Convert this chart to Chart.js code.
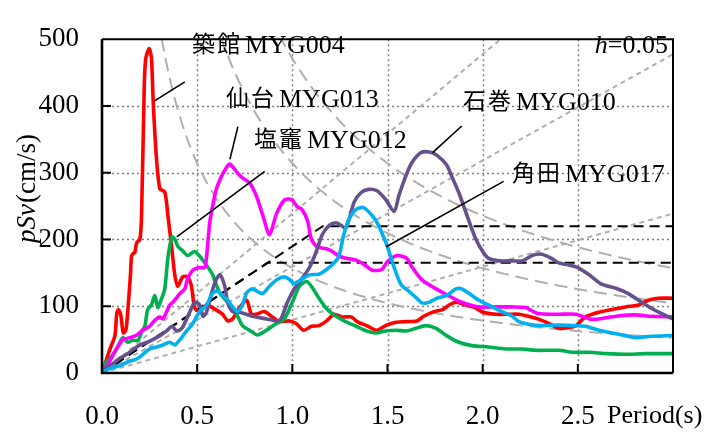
<!DOCTYPE html>
<html>
<head>
<meta charset="utf-8">
<script src="https://cdn.jsdelivr.net/npm/chart.js@4.4.0/dist/chart.umd.min.js"></script>
<style>
  html, body { margin: 0; padding: 0; background: #fff; }
</style>
</head>
<body>
<canvas id="chart" width="719" height="434"></canvas>
<script>
// ========================== Datos (periodo T [s], pSv [cm/s])
const redT = [0, 0.042, 0.068, 0.077, 0.086, 0.098, 0.112, 0.126, 0.138, 0.15, 0.155, 0.164, 0.173, 0.182, 0.199, 0.208, 0.222, 0.23, 0.248, 0.26, 0.269, 0.286, 0.304, 0.33, 0.347, 0.367, 0.382, 0.398, 0.424, 0.45, 0.47, 0.487, 0.513, 0.55, 0.58, 0.634, 0.66, 0.686, 0.723, 0.76, 0.785, 0.81, 0.853, 0.895, 0.93, 0.985, 1.02, 1.06, 1.10, 1.14, 1.18, 1.22, 1.26, 1.31, 1.34, 1.39, 1.445, 1.49, 1.545, 1.6, 1.655, 1.69, 1.745, 1.79, 1.83, 1.865, 1.91, 1.96, 2.0, 2.07, 2.14, 2.19, 2.24, 2.29, 2.35, 2.40, 2.45, 2.49, 2.54, 2.61, 2.68, 2.75, 2.82, 2.87, 2.92, 3.0];
const redV = [0, 36, 56, 88, 95, 88, 60, 65, 102, 149, 175, 179, 181, 195, 200, 238, 429, 471, 486, 471, 406, 322, 276, 271, 234, 186, 148, 130, 144, 144, 130, 98, 92, 102, 98, 88, 78, 81, 98, 109, 88, 88, 92, 84, 77, 78, 74, 64, 70, 71, 78, 88, 84, 84, 77, 71, 64, 71, 76, 77, 78, 85, 92, 95, 103, 106, 102, 98, 91, 88, 88, 88, 85, 81, 74, 67, 68, 71, 84, 91, 95, 99, 102, 109, 112, 112];

const magT = [0, 0.03, 0.068, 0.11, 0.147, 0.183, 0.215, 0.25, 0.278, 0.304, 0.32, 0.34, 0.356, 0.372, 0.41, 0.435, 0.45, 0.477, 0.513, 0.54, 0.55, 0.566, 0.58, 0.6, 0.627, 0.644, 0.67, 0.714, 0.74, 0.775, 0.81, 0.845, 0.88, 0.916, 0.958, 0.995, 1.026, 1.05, 1.08, 1.10, 1.13, 1.18, 1.21, 1.245, 1.28, 1.335, 1.38, 1.42, 1.47, 1.50, 1.55, 1.60, 1.63, 1.68, 1.755, 1.82, 1.89, 1.98, 2.07, 2.155, 2.225, 2.29, 2.40, 2.49, 2.56, 2.61, 2.70, 2.80, 2.885, 3.0];
const magV = [0, 12, 32, 50, 53, 57, 64, 70, 79, 84, 81, 92, 102, 106, 119, 126, 141, 154, 158, 158, 176, 225, 248, 275, 294, 303, 313, 299, 292, 285, 266, 236, 207, 238, 259, 260, 249, 245, 228, 200, 189, 186, 182, 175, 172, 169, 162, 154, 155, 167, 176, 172, 158, 140, 126, 116, 106, 99, 99, 99, 98, 89, 88, 88, 81, 81, 85, 87, 85, 84];

const grnT = [0, 0.016, 0.042, 0.068, 0.094, 0.11, 0.136, 0.16, 0.19, 0.21, 0.225, 0.24, 0.26, 0.278, 0.293, 0.315, 0.33, 0.346, 0.367, 0.383, 0.398, 0.424, 0.45, 0.487, 0.513, 0.55, 0.58, 0.618, 0.66, 0.707, 0.738, 0.775, 0.817, 0.864, 0.916, 0.958, 1.0, 1.037, 1.074, 1.10, 1.14, 1.184, 1.23, 1.28, 1.335, 1.39, 1.44, 1.49, 1.545, 1.60, 1.65, 1.70, 1.755, 1.81, 1.875, 1.945, 2.03, 2.12, 2.205, 2.28, 2.40, 2.47, 2.56, 2.65, 2.75, 2.855, 3.0];
const grnV = [0, 14, 22, 32, 46, 53, 46, 49, 49, 63, 70, 95, 102, 116, 98, 113, 126, 172, 204, 200, 190, 183, 176, 182, 175, 161, 148, 120, 106, 88, 71, 64, 57, 64, 74, 81, 106, 130, 137, 130, 112, 95, 85, 77, 70, 63, 60, 63, 64, 63, 67, 71, 67, 56, 46, 41, 39, 36, 36, 34, 34, 31, 31, 29, 28, 29, 29];

const purT = [0, 0.026, 0.058, 0.094, 0.13, 0.163, 0.2, 0.236, 0.267, 0.304, 0.34, 0.367, 0.393, 0.42, 0.45, 0.487, 0.513, 0.53, 0.55, 0.576, 0.6, 0.62, 0.645, 0.66, 0.686, 0.723, 0.79, 0.864, 0.916, 0.94, 0.974, 1.01, 1.047, 1.09, 1.126, 1.157, 1.194, 1.23, 1.257, 1.28, 1.30, 1.325, 1.36, 1.40, 1.445, 1.49, 1.535, 1.56, 1.60, 1.63, 1.675, 1.72, 1.76, 1.81, 1.84, 1.875, 1.91, 1.94, 1.965, 2.0, 2.03, 2.085, 2.155, 2.21, 2.26, 2.31, 2.36, 2.40, 2.45, 2.50, 2.56, 2.625, 2.70, 2.765, 2.835, 2.905, 3.0];
const purV = [0, 8, 14, 22, 28, 35, 42, 46, 50, 56, 63, 70, 63, 67, 84, 106, 102, 85, 92, 120, 140, 147, 130, 106, 92, 91, 85, 81, 78, 81, 106, 126, 140, 158, 182, 207, 221, 225, 221, 217, 232, 256, 270, 275, 273, 260, 242, 266, 298, 316, 330, 331, 326, 312, 293, 270, 242, 218, 200, 182, 172, 168, 168, 168, 176, 178, 172, 165, 162, 158, 147, 133, 127, 119, 106, 94, 81];

const cyaT = [0, 0.042, 0.094, 0.147, 0.183, 0.215, 0.25, 0.288, 0.32, 0.356, 0.383, 0.41, 0.445, 0.477, 0.513, 0.55, 0.58, 0.607, 0.634, 0.66, 0.686, 0.712, 0.738, 0.76, 0.79, 0.843, 0.88, 0.92, 0.958, 0.985, 1.01, 1.047, 1.09, 1.14, 1.18, 1.22, 1.245, 1.27, 1.30, 1.335, 1.37, 1.40, 1.44, 1.47, 1.50, 1.535, 1.57, 1.61, 1.65, 1.68, 1.72, 1.76, 1.81, 1.86, 1.89, 1.93, 1.98, 2.05, 2.10, 2.155, 2.19, 2.24, 2.31, 2.40, 2.47, 2.54, 2.61, 2.68, 2.75, 2.80, 2.885, 3.0];
const cyaV = [0, 7, 11, 18, 21, 28, 36, 39, 42, 46, 42, 50, 63, 74, 92, 102, 119, 123, 116, 109, 99, 92, 102, 120, 126, 119, 130, 140, 144, 140, 134, 140, 147, 148, 155, 165, 175, 207, 232, 245, 248, 242, 228, 210, 189, 158, 133, 123, 113, 105, 106, 112, 116, 126, 126, 119, 109, 99, 92, 85, 77, 73, 71, 72, 71, 70, 64, 60, 56, 53, 55, 56];

// líneas de referencia: desplazamiento constante Sd [cm] y aceleración constante Sa [cm/s2]
const sdLevels = [25, 50, 75];
const saLevels = [500, 1000, 1500];
// espectros de diseño (esquina y meseta)
const designT = [1.16, 0.87];
const designV = [220, 165];

// etiquetas de estaciones y sus líneas guía (extremos en T, pSv)
const stations = ["築館", "仙台", "塩竈", "石巻", "角田"];
const codes = ["MYG004", "MYG013", "MYG012", "MYG010", "MYG017"];
const leadT = [[0.278, 0.435], [0.672, 0.714], [0.393, 0.855], [1.737, 1.89], [1.493, 2.11]];
const leadV = [[408, 436], [320, 369], [204, 302], [330, 370], [189, 287]];

const xTicks = [0, 0.5, 1.0, 1.5, 2.0, 2.5, 3.0];
const yTicks = [0, 100, 200, 300, 400, 500];

// ========================== Helpers
const pts = (T, V) => T.map((t, i) => ({ x: t, y: V[i] }));
const TWO_PI = 2 * Math.PI;

function sdCurve(sd) {
    const out = [];
    for (let t = TWO_PI * sd / 560; t <= 3.0001; t += 0.01) {
        out.push({ x: t, y: TWO_PI * sd / t });
    }
    return out;
}

const SERIF = "'Liberation Serif', 'Times New Roman', serif";
const CJK = "'Noto Sans CJK JP', 'Noto Sans CJK SC', sans-serif";

Chart.defaults.font.family = SERIF;
Chart.defaults.font.size = 27;
Chart.defaults.color = "#000";

const series = (data, color) => ({
    data, borderColor: color, borderWidth: 3.6, pointRadius: 0,
    showLine: true, tension: 0.25, fill: false
});

const datasets = [];

// líneas guía de etiquetas (arriba de todo)
leadT.forEach((t, i) => {
    datasets.push({
        data: pts(t, leadV[i]), borderColor: "#000", borderWidth: 1.6,
        pointRadius: 0, showLine: true
    });
});

datasets.push(series(pts(cyaT, cyaV), "#00B0F0"));
datasets.push(series(pts(purT, purV), "#65518C"));
datasets.push(series(pts(magT, magV), "#FF00FF"));
datasets.push(series(pts(grnT, grnV), "#00B050"));
datasets.push(series(pts(redT, redV), "#FF0000"));

designT.forEach((t, i) => {
    datasets.push({
        data: [{ x: 0, y: 0 }, { x: t, y: designV[i] }, { x: 3, y: designV[i] }],
        borderColor: "#000", borderWidth: 2, borderDash: [10, 6],
        pointRadius: 0, showLine: true
    });
});

saLevels.forEach(sa => {
    datasets.push({
        data: [{ x: 0, y: 0 }, { x: 3, y: sa * 3 / TWO_PI }],
        borderColor: "#AFAFAF", borderWidth: 2, borderDash: [5, 4],
        pointRadius: 0, showLine: true
    });
});

sdLevels.forEach(sd => {
    datasets.push({
        data: sdCurve(sd), borderColor: "#AFAFAF", borderWidth: 2,
        borderDash: [13, 7], pointRadius: 0, showLine: true
    });
});

// ========================== Plugin: rejilla punteada, ejes, ticks y textos
const decorPlugin = {
    id: "decor",
    beforeDatasetsDraw(chart) {
        const { ctx, chartArea: a, scales: { x, y } } = chart;
        ctx.save();
        ctx.strokeStyle = "#7F7F7F";
        ctx.lineWidth = 1.5;
        ctx.setLineDash([2, 3]);
        xTicks.slice(1, -1).forEach(v => {
            const px = Math.round(x.getPixelForValue(v)) + 0.5;
            ctx.beginPath(); ctx.moveTo(px, a.top); ctx.lineTo(px, a.bottom); ctx.stroke();
        });
        yTicks.slice(1, -1).forEach(v => {
            const py = Math.round(y.getPixelForValue(v)) + 0.5;
            ctx.beginPath(); ctx.moveTo(a.left, py); ctx.lineTo(a.right, py); ctx.stroke();
        });
        ctx.restore();
    },
    afterDatasetsDraw(chart) {
        const { ctx, chartArea: a, scales: { x, y } } = chart;
        ctx.save();
        ctx.setLineDash([]);
        ctx.strokeStyle = "#000";

        // marco
        ctx.lineWidth = 2;
        ctx.beginPath();
        ctx.moveTo(a.left, a.top); ctx.lineTo(a.right, a.top); ctx.lineTo(a.right, a.bottom);
        ctx.stroke();
        ctx.lineWidth = 2.6;
        ctx.beginPath();
        ctx.moveTo(a.left, a.top); ctx.lineTo(a.left, a.bottom); ctx.lineTo(a.right, a.bottom);
        ctx.stroke();

        // ticks hacia adentro
        ctx.lineWidth = 2;
        xTicks.slice(1, -1).forEach(v => {
            const px = x.getPixelForValue(v);
            ctx.beginPath(); ctx.moveTo(px, a.bottom); ctx.lineTo(px, a.bottom - 9); ctx.stroke();
        });
        yTicks.slice(1, -1).forEach(v => {
            const py = y.getPixelForValue(v);
            ctx.beginPath(); ctx.moveTo(a.left, py); ctx.lineTo(a.left + 9, py); ctx.stroke();
        });

        // etiquetas de estaciones
        ctx.fillStyle = "#000";
        ctx.textBaseline = "alphabetic";
        ctx.textAlign = "left";
        const labelPos = [[192, 53], [226, 107], [254, 148], [463, 110], [512, 182]];
        stations.forEach((s, i) => {
            const [lx, ly] = labelPos[i];
            ctx.font = "23px " + CJK;
            [...s].forEach((ch, k) => ctx.fillText(ch, lx + k * 25, ly - 1));
            ctx.font = "26px " + SERIF;
            ctx.fillText(codes[i], lx + 53, ly);
        });

        // h=0.05
        ctx.font = "26px " + SERIF;
        const rest = "=0.05";
        const wRest = ctx.measureText(rest).width;
        ctx.fillText(rest, 668 - wRest, 53);
        ctx.font = "italic 26px " + SERIF;
        const wh = ctx.measureText("h").width;
        ctx.fillText("h", 668 - wRest - wh, 53);

        // título eje x
        ctx.font = "26px " + SERIF;
        ctx.fillText("Period(s)", 607, 423);

        // título eje y (rotado)
        ctx.translate(35, 189);
        ctx.rotate(-Math.PI / 2);
        ctx.font = "italic 27px " + SERIF;
        const it = "pSv";
        const wi = ctx.measureText(it).width;
        ctx.font = "27px " + SERIF;
        const nr = "(cm/s)";
        const wn = ctx.measureText(nr).width;
        const x0 = -(wi + wn) / 2;
        ctx.font = "italic 27px " + SERIF;
        ctx.fillText(it, x0, 0);
        ctx.font = "27px " + SERIF;
        ctx.fillText(nr, x0 + wi + 1, 0);
        ctx.restore();
    }
};

// ========================== Gráfica
new Chart(document.getElementById("chart"), {
    type: "scatter",
    data: { datasets },
    options: {
        responsive: false,
        animation: false,
        events: [],
        layout: { padding: { left: 0, top: 16, right: 46, bottom: 0 } },
        plugins: { legend: { display: false }, tooltip: { enabled: false } },
        scales: {
            x: {
                type: "linear", min: 0, max: 3,
                afterFit: s => { s.height = 61; },
                afterBuildTicks: s => { s.ticks = xTicks.map(v => ({ value: v })); },
                grid: { display: false, drawTicks: false },
                border: { display: false },
                ticks: {
                    autoSkip: false, maxRotation: 0, padding: 28,
                    color: "#000", font: { family: SERIF, size: 27 },
                    callback: v => (v >= 3 ? "" : v.toFixed(1))
                }
            },
            y: {
                type: "linear", min: 0, max: 500,
                afterFit: s => { s.width = 102; },
                afterBuildTicks: s => { s.ticks = yTicks.map(v => ({ value: v })); },
                grid: { display: false, drawTicks: false },
                border: { display: false },
                ticks: {
                    padding: 23, color: "#000", font: { family: SERIF, size: 27 },
                    callback: v => String(v)
                }
            }
        }
    },
    plugins: [decorPlugin]
});
</script>
</body>
</html>
